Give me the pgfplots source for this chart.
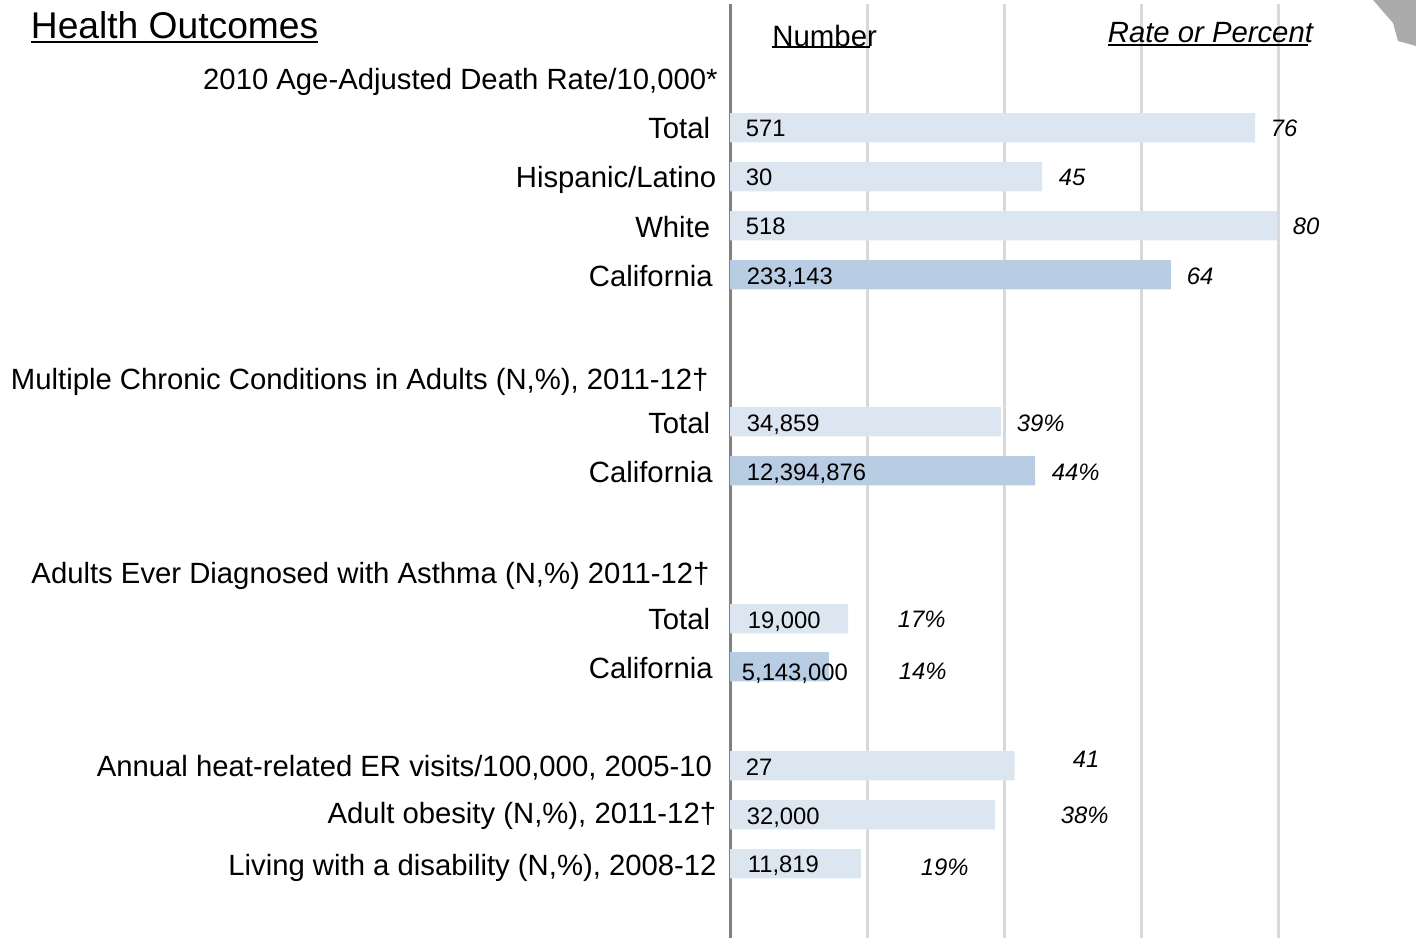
\documentclass[border=0pt]{standalone}
\usepackage{pgfplots}
\pgfplotsset{compat=1.18}
\usepackage{fontspec}
\setmainfont{Liberation Sans}
\definecolor{barlight}{HTML}{DCE6F1}
\definecolor{bardark}{HTML}{B8CCE4}
\definecolor{gridc}{HTML}{D9D9D9}
\definecolor{spine}{HTML}{808080}
\definecolor{mapc}{HTML}{ABABAB}
\newcommand{\lab}[3]{\node[anchor=base east,inner sep=0pt,font=\fontsize{14.64pt}{17pt}\selectfont] at (#1,#2) {#3};}
\newcommand{\num}[3]{\node[anchor=base west,inner sep=0pt,font=\fontsize{11.9pt}{14pt}\selectfont] at (#1,#2) {#3};}
\newcommand{\rat}[3]{\node[anchor=base west,inner sep=0pt,font=\fontsize{11.9pt}{14pt}\selectfont\itshape] at (#1,#2) {#3};}
\begin{document}
\begin{tikzpicture}[x=0.5pt,y=-0.5pt]
\path (0,0) rectangle (1416,940);
\fill[mapc] (1373,0) -- (1393,23) -- (1398,41) -- (1416,46) -- (1416,0) -- cycle;
\begin{axis}[
  at={(365pt,-2pt)}, anchor=north west,
  scale only axis, width=342.5pt, height=467pt,
  xmin=0, xmax=100, ymin=4, ymax=938,
  y dir=reverse,
  axis lines=left,
  axis line style={-},
  x axis line style={draw=none},
  y axis line style={draw=spine,line width=1.5pt},
  xtick={20,40,60,80}, xticklabels={},
  ytick=\empty,
  major tick length=0pt,
  xmajorgrids,
  grid style={gridc,line width=1.5pt},
  xbar, bar width=14.7pt, bar shift=0pt,
  clip=false,
]
\addplot[fill=barlight,draw=none] coordinates {
 (76.65,127.7) (45.55,176.7) (79.85,225.7) (39.55,421.7) (17.25,618.7) (41.55,765.7) (38.65,814.7) (19.15,863.7)};
\addplot[fill=bardark,draw=none] coordinates {
 (64.35,274.7) (44.55,470.7) (14.45,666.7)};
\end{axis}
% section and row labels
\node[anchor=base west,inner sep=0pt,font=\fontsize{18.6pt}{22pt}\selectfont] at (30.5,38) {Health Outcomes};
\draw[line width=1pt] (31,42) -- (318,42);
\node[anchor=base west,inner sep=0pt,font=\fontsize{14.7pt}{17pt}\selectfont] at (772,46) {Number};
\draw[line width=0.9pt] (772,47) -- (870,47);
\node[anchor=base west,inner sep=0pt,font=\fontsize{14.64pt}{17pt}\selectfont\itshape] at (1107.5,42) {Rate or Percent};
\draw[line width=0.9pt] (1108,45) -- (1308,45);
\lab{718}{89}{2010 Age-Adjusted Death Rate/10,000*}
\lab{710.5}{138}{Total}
\lab{716.5}{187}{Hispanic/Latino}
\lab{710.5}{237}{White}
\lab{713}{286}{California}
\lab{709}{389}{Multiple Chronic Conditions in Adults (N,\%), 2011-12†}
\lab{710.5}{433}{Total}
\lab{713}{482}{California}
\lab{710}{583}{Adults Ever Diagnosed with Asthma (N,\%) 2011-12†}
\lab{710.5}{629}{Total}
\lab{713}{678}{California}
\lab{712.5}{776}{Annual heat-related ER visits/100,000, 2005-10}
\lab{716.5}{823}{Adult obesity (N,\%), 2011-12†}
\lab{717}{875}{Living with a disability (N,\%), 2008-12}
% numbers
\num{745.5}{136}{571}
\num{745.5}{185}{30}
\num{745.5}{234}{518}
\num{746.5}{284}{233,143}
\num{746.5}{431}{34,859}
\num{746.5}{480}{12,394,876}
\num{747.5}{628}{19,000}
\num{741.5}{680.5}{5,143,000}
\num{745.5}{775}{27}
\num{746.5}{824}{32,000}
\num{747.5}{872}{11,819}
% rates
\rat{1270.5}{136}{76}
\rat{1058.5}{185}{45}
\rat{1292.5}{234}{80}
\rat{1186.5}{284}{64}
\rat{1016.5}{431}{39\%}
\rat{1051.5}{480}{44\%}
\rat{897.5}{627}{17\%}
\rat{898.5}{679.5}{14\%}
\rat{1072.5}{767}{41}
\rat{1060.5}{823}{38\%}
\rat{920.5}{875}{19\%}
\end{tikzpicture}
\end{document}
